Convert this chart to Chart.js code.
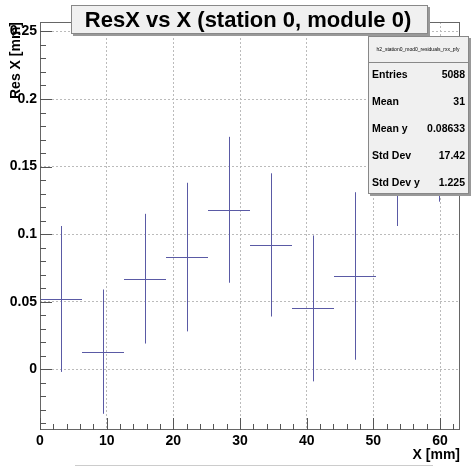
<!DOCTYPE html>
<html>
<head>
<meta charset="utf-8">
<script src="https://cdn.jsdelivr.net/npm/chart.js@4"></script>
<style>
  body { margin: 0; background: #fff; }
  canvas { display: block; }
</style>
</head>
<body>
<canvas id="c" width="471" height="466"></canvas>
<script>
// profile bins (x centre, half width) and mean residual with error
const xCenters = [3.15, 9.45, 15.75, 22.05, 28.35, 34.65, 40.95, 47.25, 53.55, 59.85];
const xHalfWidth = [3.15, 3.15, 3.15, 3.15, 3.15, 3.15, 3.15, 3.15, 3.15, 3.15];
const yMean = [0.052, 0.013, 0.067, 0.083, 0.118, 0.092, 0.045, 0.069, 0.160, 0.178];
const yErr = [0.054, 0.046, 0.048, 0.055, 0.054, 0.053, 0.054, 0.062, 0.054, 0.054];

const xTicks = [0, 10, 20, 30, 40, 50, 60];
const yTicks = [0, 0.05, 0.1, 0.15, 0.2, 0.25];
const yTickLabels = ['0', '0.05', '0.1', '0.15', '0.2', '0.25'];

const titleText = 'ResX vs X (station 0, module 0)';
const statsName = 'h2_station0_mod0_residuals_rxx_pfy';
const statsLabels = ['Entries', 'Mean', 'Mean y', 'Std Dev', 'Std Dev y'];
const statsValues = ['5088', '31', '0.08633', '17.42', '1.225'];

const FONT = '"Liberation Sans", Arial, Helvetica, sans-serif';

const rootPlugin = {
  id: 'rootStyle',
  afterDatasetsDraw(chart) {
    const { ctx, scales: { x, y } } = chart;
    ctx.save();
    ctx.strokeStyle = '#5a5aa5';
    ctx.lineWidth = 1;
    ctx.beginPath();
    for (let i = 0; i < xCenters.length; i++) {
      const px = Math.round(x.getPixelForValue(xCenters[i])) + 0.5;
      const py = Math.round(y.getPixelForValue(yMean[i])) + 0.5;
      ctx.moveTo(x.getPixelForValue(xCenters[i] - xHalfWidth[i]), py);
      ctx.lineTo(x.getPixelForValue(xCenters[i] + xHalfWidth[i]), py);
      ctx.moveTo(px, y.getPixelForValue(yMean[i] + yErr[i]));
      ctx.lineTo(px, y.getPixelForValue(yMean[i] - yErr[i]));
    }
    ctx.stroke();
    ctx.restore();
  },
  afterDraw(chart) {
    const { ctx, chartArea: a, scales: { x, y } } = chart;
    ctx.save();

    // frame
    ctx.strokeStyle = '#666';
    ctx.lineWidth = 1;
    ctx.strokeRect(a.left + 0.5, a.top + 0.5, a.right - a.left - 1, a.bottom - a.top - 1);

    // ticks on x axis
    ctx.strokeStyle = '#555';
    ctx.beginPath();
    for (let v = 0; v <= 62; v += 2) {
      const px = Math.round(x.getPixelForValue(v)) + 0.5;
      const len = v % 10 === 0 ? 12 : 6;
      ctx.moveTo(px, a.bottom);
      ctx.lineTo(px, a.bottom - len);
    }
    // ticks on y axis
    for (let k = -4; k <= 25; k++) {
      const py = Math.round(y.getPixelForValue(k / 100)) + 0.5;
      const len = k % 5 === 0 ? 12 : 6;
      ctx.moveTo(a.left, py);
      ctx.lineTo(a.left + len, py);
    }
    ctx.stroke();

    // axis titles
    ctx.fillStyle = '#000';
    ctx.font = 'bold 14px ' + FONT;
    ctx.textAlign = 'right';
    ctx.textBaseline = 'alphabetic';
    ctx.fillText('X [mm]', a.right, 459);
    ctx.save();
    ctx.translate(20, 22);
    ctx.rotate(-Math.PI / 2);
    ctx.fillText('Res X [mm]', 0, 0);
    ctx.restore();

    // title box
    ctx.fillStyle = '#999';
    ctx.fillRect(73, 7, 357, 29);
    ctx.fillStyle = '#f0f0f0';
    ctx.fillRect(71, 5, 357, 29);
    ctx.strokeStyle = '#888';
    ctx.strokeRect(71.5, 5.5, 356, 28);
    ctx.fillStyle = '#000';
    ctx.font = 'bold 22px ' + FONT;
    ctx.textAlign = 'center';
    ctx.textBaseline = 'middle';
    ctx.fillText(titleText, 248, 21);

    // stats box
    ctx.fillStyle = '#999';
    ctx.fillRect(370, 38, 101, 158);
    ctx.fillStyle = '#f0f0f0';
    ctx.fillRect(368, 36, 101, 158);
    ctx.strokeStyle = '#888';
    ctx.strokeRect(368.5, 36.5, 100, 157);
    ctx.beginPath();
    ctx.moveTo(368, 62.5);
    ctx.lineTo(469, 62.5);
    ctx.stroke();
    ctx.fillStyle = '#000';
    ctx.font = '5px ' + FONT;
    ctx.fillText(statsName, 418, 50);
    ctx.font = 'bold 10.5px ' + FONT;
    statsLabels.forEach((lab, i) => {
      const ty = 75.5 + i * 27;
      ctx.textAlign = 'left';
      ctx.fillText(lab, 372, ty);
      ctx.textAlign = 'right';
      ctx.fillText(statsValues[i], 465, ty);
    });

    // top edge of a box cut off at the bottom of the canvas
    ctx.fillStyle = '#f0f0f0';
    ctx.fillRect(75, 465, 358, 1);
    ctx.strokeStyle = '#ccc';
    ctx.beginPath();
    ctx.moveTo(75, 465.5);
    ctx.lineTo(433, 465.5);
    ctx.stroke();

    ctx.restore();
  }
};

new Chart(document.getElementById('c'), {
  type: 'scatter',
  data: {
    datasets: [{
      data: xCenters.map((v, i) => ({ x: v, y: yMean[i] })),
      pointRadius: 0,
      showLine: false
    }]
  },
  options: {
    responsive: false,
    animation: false,
    devicePixelRatio: 1,
    layout: { padding: { top: 22, right: 11, left: 0, bottom: 0 } },
    plugins: { legend: { display: false }, tooltip: { enabled: false } },
    scales: {
      x: {
        type: 'linear',
        min: 0,
        max: 63,
        afterBuildTicks: s => { s.ticks = xTicks.map(v => ({ value: v })); },
        afterFit: s => { s.height = 36; },
        grid: { color: '#bbb', drawTicks: false },
        border: { display: false, dash: [2, 2] },
        ticks: {
          padding: 3,
          color: '#000',
          font: { family: FONT, size: 14, weight: 'bold' },
          maxRotation: 0,
          callback: v => String(v)
        }
      },
      y: {
        type: 'linear',
        min: -0.045,
        max: 0.257,
        afterBuildTicks: s => { s.ticks = yTicks.map(v => ({ value: v })); },
        afterFit: s => { s.width = 40; },
        grid: { color: '#bbb', drawTicks: false },
        border: { display: false, dash: [2, 2] },
        ticks: {
          padding: 3,
          color: '#000',
          font: { family: FONT, size: 14, weight: 'bold' },
          callback: (v, i) => yTickLabels[i]
        }
      }
    }
  },
  plugins: [rootPlugin]
});
</script>
</body>
</html>
